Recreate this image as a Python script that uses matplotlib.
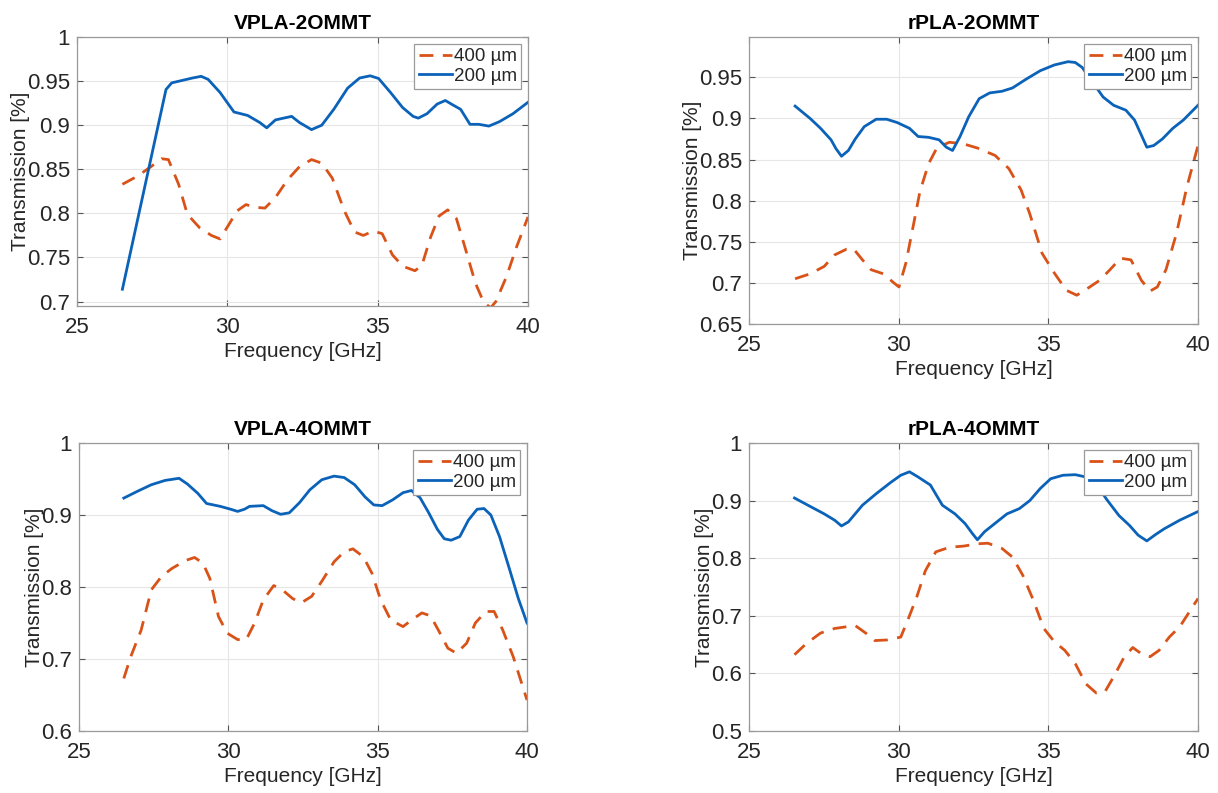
import matplotlib
matplotlib.use("Agg")
import matplotlib.pyplot as plt
from matplotlib.ticker import FuncFormatter

plt.rcParams['font.family'] = ['Liberation Sans', 'DejaVu Sans']

# ---------------- data ----------------
# VPLA-2OMMT
vpla2_f200 = [26.51, 27.96, 28.15, 28.84, 29.13, 29.36, 29.76, 30.22, 30.68, 31.08, 31.31, 31.6,
              32.14, 32.4, 32.8, 33.14, 33.54, 34.0, 34.4, 34.75, 35.03, 35.43, 35.83, 36.18,
              36.35, 36.64, 36.98, 37.25, 37.5, 37.76, 38.07, 38.36, 38.7, 39.05, 39.5, 40.0]
vpla2_t200 = [0.714, 0.9405, 0.948, 0.9535, 0.9554, 0.952, 0.937, 0.915, 0.911, 0.903, 0.897, 0.906,
              0.910, 0.903, 0.895, 0.900, 0.918, 0.942, 0.9535, 0.956, 0.953, 0.937, 0.920, 0.910,
              0.908, 0.913, 0.924, 0.928, 0.923, 0.918, 0.901, 0.901, 0.899, 0.904, 0.913, 0.926]
vpla2_f400 = [26.51, 27.0, 27.46, 27.81, 28.04, 28.38, 28.67, 29.07, 29.47, 29.76, 29.99, 30.33,
              30.62, 30.9, 31.25, 31.6, 32.0, 32.4, 32.8, 33.14, 33.49, 33.89, 34.23, 34.52,
              34.86, 35.15, 35.49, 35.84, 36.24, 36.47, 36.76, 37.04, 37.33, 37.62, 37.9, 38.25,
              38.53, 38.76, 38.93, 39.28, 39.62, 40.0]
vpla2_t400 = [0.833, 0.842, 0.853, 0.862, 0.861, 0.833, 0.799, 0.784, 0.775, 0.771, 0.784, 0.803,
              0.810, 0.807, 0.806, 0.818, 0.838, 0.853, 0.861, 0.857, 0.840, 0.803, 0.779, 0.775,
              0.780, 0.777, 0.753, 0.740, 0.735, 0.741, 0.773, 0.797, 0.804, 0.794, 0.762, 0.721,
              0.699, 0.693, 0.700, 0.728, 0.762, 0.796]

# rPLA-2OMMT
rpla2_f200 = [26.54, 27.04, 27.39, 27.74, 27.91, 28.09, 28.32, 28.55, 28.85, 29.25, 29.6, 29.95,
              30.36, 30.65, 31.0, 31.35, 31.59, 31.8, 32.05, 32.34, 32.69, 33.04, 33.45, 33.8,
              34.27, 34.73, 35.2, 35.66, 35.9, 36.13, 36.48, 36.83, 37.18, 37.59, 37.88, 38.29,
              38.52, 38.81, 39.16, 39.51, 40.0]
rpla2_t200 = [0.915, 0.900, 0.888, 0.874, 0.863, 0.854, 0.861, 0.875, 0.890, 0.899, 0.899, 0.895,
              0.888, 0.878, 0.877, 0.874, 0.865, 0.861, 0.878, 0.902, 0.924, 0.931, 0.933, 0.937,
              0.948, 0.958, 0.965, 0.969, 0.968, 0.962, 0.944, 0.926, 0.916, 0.910, 0.898, 0.865,
              0.867, 0.875, 0.888, 0.898, 0.916]
rpla2_f400 = [26.54, 27.04, 27.51, 27.86, 28.26, 28.5, 28.79, 29.08, 29.49, 29.84, 30.01, 30.24,
              30.48, 30.71, 31.0, 31.29, 31.7, 32.17, 32.63, 33.22, 33.68, 34.09, 34.38, 34.79,
              35.2, 35.6, 35.95, 36.3, 36.71, 37.06, 37.41, 37.76, 38.11, 38.4, 38.64, 38.93,
              39.28, 39.63, 40.0]
rpla2_t400 = [0.705, 0.711, 0.720, 0.734, 0.741, 0.741, 0.728, 0.716, 0.711, 0.700, 0.695, 0.724,
              0.768, 0.811, 0.845, 0.865, 0.871, 0.869, 0.864, 0.855, 0.839, 0.813, 0.784, 0.736,
              0.712, 0.691, 0.685, 0.693, 0.703, 0.716, 0.730, 0.728, 0.703, 0.690, 0.695, 0.716,
              0.760, 0.817, 0.867]

# VPLA-4OMMT
vpla4_f200 = [26.5, 26.96, 27.42, 27.88, 28.35, 28.63, 28.98, 29.27, 29.73, 30.08, 30.31, 30.54,
              30.71, 31.17, 31.46, 31.75, 32.04, 32.38, 32.73, 33.13, 33.54, 33.88, 34.23, 34.58,
              34.87, 35.15, 35.5, 35.85, 36.13, 36.42, 36.71, 37.0, 37.23, 37.46, 37.75, 38.04,
              38.33, 38.56, 38.79, 39.08, 39.42, 39.71, 40.0]
vpla4_t200 = [0.9235, 0.933, 0.942, 0.948, 0.951, 0.943, 0.930, 0.916, 0.912, 0.908, 0.905, 0.908,
              0.912, 0.913, 0.906, 0.901, 0.903, 0.917, 0.935, 0.949, 0.954, 0.952, 0.942, 0.925,
              0.914, 0.913, 0.921, 0.931, 0.934, 0.924, 0.903, 0.880, 0.867, 0.865, 0.870, 0.893,
              0.908, 0.909, 0.900, 0.870, 0.824, 0.784, 0.750]
vpla4_f400 = [26.5, 26.73, 27.08, 27.42, 27.77, 28.12, 28.58, 28.87, 29.15, 29.38, 29.67, 29.96,
              30.31, 30.6, 30.88, 31.17, 31.52, 31.81, 32.15, 32.44, 32.79, 33.13, 33.54, 33.88,
              34.17, 34.52, 34.81, 35.1, 35.44, 35.85, 36.13, 36.48, 36.77, 37.06, 37.35, 37.64,
              37.98, 38.27, 38.62, 38.9, 39.19, 39.54, 40.0]
vpla4_t400 = [0.673, 0.703, 0.740, 0.796, 0.815, 0.826, 0.837, 0.841, 0.833, 0.812, 0.759, 0.736,
              0.727, 0.727, 0.750, 0.782, 0.802, 0.796, 0.784, 0.778, 0.787, 0.808, 0.835, 0.849,
              0.853, 0.842, 0.819, 0.782, 0.754, 0.745, 0.754, 0.764, 0.760, 0.738, 0.715, 0.708,
              0.722, 0.750, 0.766, 0.766, 0.740, 0.703, 0.643]

# rPLA-4OMMT
rpla4_f200 = [26.52, 27.04, 27.51, 27.86, 28.09, 28.32, 28.79, 29.25, 29.72, 30.07, 30.36, 30.65,
              31.06, 31.46, 31.88, 32.22, 32.46, 32.63, 32.87, 33.28, 33.62, 34.03, 34.38, 34.73,
              35.08, 35.49, 35.9, 36.25, 36.66, 36.95, 37.36, 37.71, 38.0, 38.29, 38.58, 38.87,
              39.39, 40.0]
rpla4_t200 = [0.9045, 0.890, 0.877, 0.866, 0.856, 0.863, 0.892, 0.912, 0.931, 0.944, 0.950, 0.941,
              0.927, 0.892, 0.877, 0.860, 0.843, 0.832, 0.846, 0.863, 0.877, 0.886, 0.900, 0.921,
              0.938, 0.944, 0.945, 0.941, 0.924, 0.902, 0.874, 0.857, 0.840, 0.830, 0.841, 0.851,
              0.866, 0.881]
rpla4_f400 = [26.52, 26.92, 27.39, 27.86, 28.26, 28.55, 28.9, 29.2, 29.6, 30.07, 30.3, 30.6,
              30.89, 31.24, 31.7, 32.17, 32.63, 32.98, 33.45, 33.8, 34.15, 34.5, 34.85, 35.2,
              35.55, 35.9, 36.25, 36.6, 36.89, 37.18, 37.53, 37.82, 38.11, 38.4, 38.7, 39.04,
              39.39, 40.0]
rpla4_t400 = [0.6325, 0.652, 0.670, 0.678, 0.681, 0.683, 0.670, 0.657, 0.658, 0.663, 0.692, 0.732,
              0.778, 0.811, 0.819, 0.821, 0.825, 0.826, 0.817, 0.802, 0.770, 0.727, 0.678, 0.655,
              0.640, 0.617, 0.582, 0.566, 0.568, 0.594, 0.628, 0.645, 0.634, 0.629, 0.640, 0.663,
              0.681, 0.730]

titles = ['VPLA-2OMMT', 'rPLA-2OMMT', 'VPLA-4OMMT', 'rPLA-4OMMT']
legend_labels = ['400 µm', '200 µm']
x_ticks = [25, 30, 35, 40]

# ---------------- styling ----------------
BLUE = '#0b62b9'
ORANGE = '#d95319'
TXT = '#262626'
EDGE = '#9a9a9a'

W, H = 1218, 793
fig = plt.figure(figsize=(W / 100, H / 100), dpi=100)


def px_axes(left, top, right, bottom):
    return fig.add_axes([left / W, 1 - bottom / H, (right - left) / W, (bottom - top) / H])


panels = [
    dict(box=(77, 37, 528, 306), ylim=(0.695, 1.0), yt=[0.7, 0.75, 0.8, 0.85, 0.9, 0.95, 1.0],
         f400=vpla2_f400, t400=vpla2_t400, f200=vpla2_f200, t200=vpla2_t200),
    dict(box=(749, 37, 1198, 324), ylim=(0.65, 0.999), yt=[0.65, 0.7, 0.75, 0.8, 0.85, 0.9, 0.95],
         f400=rpla2_f400, t400=rpla2_t400, f200=rpla2_f200, t200=rpla2_t200),
    dict(box=(79, 443, 527, 731), ylim=(0.6, 1.0), yt=[0.6, 0.7, 0.8, 0.9, 1.0],
         f400=vpla4_f400, t400=vpla4_t400, f200=vpla4_f200, t200=vpla4_t200),
    dict(box=(749, 443, 1198, 731), ylim=(0.5, 1.0), yt=[0.5, 0.6, 0.7, 0.8, 0.9, 1.0],
         f400=rpla4_f400, t400=rpla4_t400, f200=rpla4_f200, t200=rpla4_t200),
]

fmt = FuncFormatter(lambda v, p: ('%.2f' % v).rstrip('0').rstrip('.'))

for title, p in zip(titles, panels):
    ax = px_axes(*p['box'])
    ax.plot(p['f400'], p['t400'], color=ORANGE, lw=2.0, linestyle=(0, (5, 3.4)),
            label=legend_labels[0])
    ax.plot(p['f200'], p['t200'], color=BLUE, lw=2.0, label=legend_labels[1])
    ax.set_xlim(25, 40)
    ax.set_ylim(*p['ylim'])
    ax.set_xticks(x_ticks)
    ax.set_yticks(p['yt'])
    ax.yaxis.set_major_formatter(fmt)
    ax.grid(True, color='#e6e6e6', lw=0.8)
    ax.set_axisbelow(True)
    for s in ax.spines.values():
        s.set_color(EDGE)
        s.set_linewidth(0.9)
    ax.tick_params(direction='in', length=4, width=0.8, color='#555555',
                   top=True, right=True, labelsize=16, labelcolor=TXT)
    ax.tick_params(axis='x', pad=8)
    ax.tick_params(axis='y', pad=5)
    ax.set_title(title, fontsize=15, fontweight='bold', color='black', pad=6)
    ax.set_xlabel('Frequency [GHz]', fontsize=15, color=TXT, labelpad=3)
    ax.set_ylabel('Transmission [%]', fontsize=15, color=TXT, labelpad=-2)
    leg = ax.legend(loc='upper right', fontsize=13.5, handlelength=1.75, handletextpad=0.1,
                    borderpad=0.25, labelspacing=0.12, borderaxespad=0.35,
                    fancybox=False, framealpha=1, edgecolor=EDGE)
    leg.get_frame().set_linewidth(0.9)
    for t in leg.get_texts():
        t.set_color(TXT)

fig.savefig('out.png', dpi=100)
